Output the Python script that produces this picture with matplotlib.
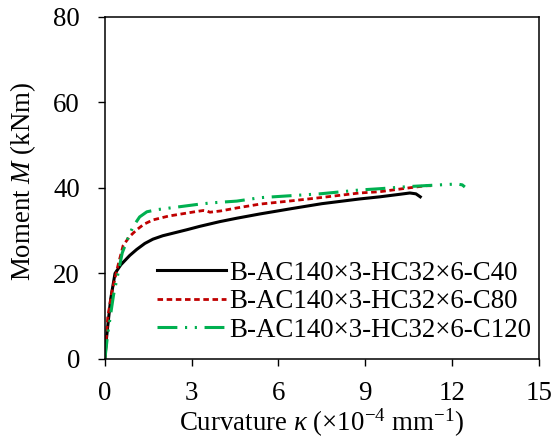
import matplotlib
matplotlib.use("Agg")
import matplotlib.pyplot as plt

plt.rcParams['font.family'] = ['Liberation Serif', 'DejaVu Serif']
plt.rcParams['mathtext.fontset'] = 'custom'
plt.rcParams['mathtext.rm'] = 'Liberation Serif'
plt.rcParams['mathtext.it'] = 'Liberation Serif:italic'

labels = ["B-AC140×3-HC32×6-C40", "B-AC140×3-HC32×6-C80", "B-AC140×3-HC32×6-C120"]

k_c40 = [0, 0.05, 0.11, 0.2, 0.35, 0.55, 0.86, 1.1, 1.38, 1.66, 2.0, 2.83, 3.28, 3.97, 4.56, 5.36, 6.5, 7.5, 8.8, 9.5, 10.2, 10.54, 10.75, 10.9]
m_c40 = [0, 4.5, 8.4, 14.0, 20.0, 22.0, 24.2, 25.6, 27.0, 28.0, 28.8, 30.2, 31.0, 32.1, 32.9, 33.9, 35.2, 36.3, 37.4, 37.9, 38.5, 38.8, 38.6, 37.9]

k_c80 = [0, 0.05, 0.1, 0.25, 0.44, 0.63, 0.85, 1.1, 1.35, 1.66, 2.2, 2.83, 3.1, 3.4, 3.52, 3.63, 4.0, 4.56, 5.36, 6.5, 7.43, 8.8, 9.5, 10.4, 11.1, 11.35]
m_c80 = [0, 5.0, 9.8, 16.0, 21.5, 26.5, 28.6, 30.2, 31.5, 32.5, 33.4, 34.1, 34.4, 34.7, 34.6, 34.3, 34.6, 35.3, 36.2, 37.0, 37.7, 38.8, 39.1, 39.9, 40.5, 40.5]

k_c120 = [0, 0.05, 0.1, 0.3, 0.6, 0.8, 0.97, 1.2, 1.45, 1.8, 2.6, 3.28, 3.7, 4.56, 5.36, 6.5, 7.43, 8.8, 9.5, 10.5, 11.58, 12.17, 12.35, 12.44]
m_c120 = [0, 3.0, 6.0, 15.0, 24.8, 28.3, 30.9, 33.2, 34.4, 34.9, 35.6, 36.2, 36.5, 36.9, 37.7, 38.2, 38.6, 39.5, 39.8, 40.3, 40.7, 40.9, 40.7, 40.2]

x_ticks = [0, 3, 6, 9, 12, 15]
y_ticks = [0, 20, 40, 60, 80]

FS = 19.4

fig = plt.figure(figsize=(5.55, 4.42), dpi=100)
ax = fig.add_axes([0.189, 0.188, 0.782, 0.774])

ax.plot(k_c40, m_c40, color='black', lw=2.2, label=labels[0])
ax.plot(k_c80, m_c80, color='#C00000', lw=2.0, linestyle=(0, (2, 1.3)), label=labels[1])
ax.plot(k_c120, m_c120, color='#00B050', lw=2.2, linestyle=(0, (6.5, 2.5, 0.7, 2.5, 0.7, 2.5)), label=labels[2])

ax.set_xlim(0, 15)
ax.set_ylim(0, 80)
ax.set_xticks(x_ticks)
ax.set_yticks(y_ticks)
ax.tick_params(direction='out', length=5, width=1, labelsize=FS, top=False, right=False)
ax.tick_params(axis='y', pad=13)
ax.tick_params(axis='x', pad=11)
for s in ax.spines.values():
    s.set_linewidth(1.1)

ax.set_xlabel(r'Curvature $\kappa$ ($\times$10$^{\mathrm{-4}}$ mm$^{\mathrm{-1}}$)', fontsize=FS)
ax.set_ylabel(r'Moment $M$ (kNm)', fontsize=FS)
ax.xaxis.set_label_coords(0.5, -0.14)
ax.yaxis.set_label_coords(-0.154, 0.519)

leg = ax.legend(loc='upper left', bbox_to_anchor=(0.12, 0.287), frameon=False, fontsize=FS,
                handlelength=2.55, handletextpad=0.12, labelspacing=0.13, borderaxespad=0.0,
                borderpad=0.0)

fig.savefig('out.png', dpi=100)
